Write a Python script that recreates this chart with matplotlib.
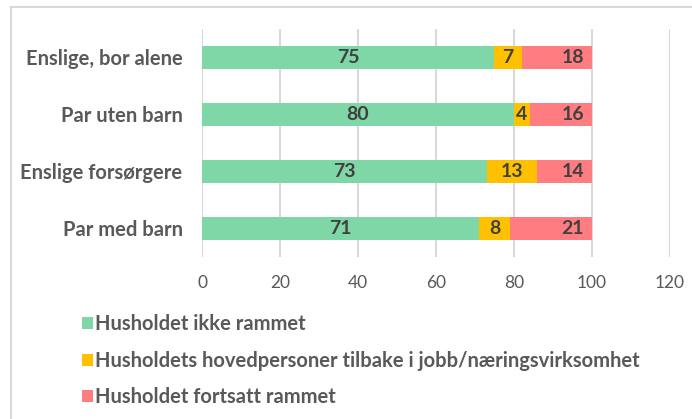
import matplotlib.pyplot as plt
from matplotlib.patches import Rectangle, Patch

categories = ["Enslige, bor alene", "Par uten barn", "Enslige forsørgere", "Par med barn"]
series_names = [
    "Husholdet ikke rammet",
    "Husholdets hovedpersoner tilbake i jobb/næringsvirksomhet",
    "Husholdet fortsatt rammet",
]
ikke_rammet = [75, 80, 73, 71]
tilbake_jobb = [7, 4, 13, 8]
fortsatt_rammet = [18, 16, 14, 21]
colors = ["#7FD6A6", "#FFC000", "#FF7C80"]
xticks = [0, 20, 40, 60, 80, 100, 120]

plt.rcParams["font.family"] = ["Lato", "DejaVu Sans"]
txt = "#595959"

fig = plt.figure(figsize=(6.92, 4.19), dpi=100)
ax = fig.add_axes([0.292, 0.387, 0.676, 0.544])

# frame round the chart area (only left/top visible in the crop)
fig.patches.append(Rectangle((11 / 692, -0.1), 1.2, 1 - 7 / 419 + 0.1,
                             transform=fig.transFigure, fill=False,
                             edgecolor="#D9D9D9", linewidth=1.5))

ypos = list(range(len(categories)))
left = [0] * len(categories)
series = [ikke_rammet, tilbake_jobb, fortsatt_rammet]
for i, (vals, name, col) in enumerate(zip(series, series_names, colors)):
    bars = ax.barh(ypos, vals, left=left, height=0.4, color=col, label=name, zorder=3)
    last = i == len(series) - 1
    for b, v in zip(bars, vals):
        # last segment: label sits at the inside end, like Excel does it
        if last:
            x, ha = b.get_x() + b.get_width() - 2, "right"
        else:
            x, ha = b.get_x() + b.get_width() / 2, "center"
        ax.text(x, b.get_y() + b.get_height() / 2, str(v),
                ha=ha, va="center", fontsize=14, fontweight="bold", color="#404040", zorder=4)
    left = [a + b for a, b in zip(left, vals)]

ax.set_ylim(len(categories) - 0.5, -0.5)
ax.set_yticks(ypos)
ax.set_yticklabels(categories, fontsize=14.5, fontweight="bold", color=txt)
ax.set_xlim(0, 120)
ax.set_xticks(xticks)
ax.set_xticklabels([str(t) for t in xticks], fontsize=12.5, color=txt)
ax.tick_params(axis="both", length=0)
ax.tick_params(axis="x", pad=13)
ax.tick_params(axis="y", pad=14)
ax.grid(axis="x", color="#D9D9D9", linewidth=1.5, zorder=0)
for s in ax.spines.values():
    s.set_visible(False)

handles = [Patch(facecolor=c, edgecolor="none") for c in colors]
leg = fig.legend(handles, series_names, loc="upper left", bbox_to_anchor=(0.118, 0.25),
                 frameon=False, fontsize=14.5, handlelength=0.55, handleheight=0.55,
                 handletextpad=0.1, labelspacing=0.82, borderaxespad=0, borderpad=0)
for t in leg.get_texts():
    t.set_color(txt)
    t.set_fontweight("bold")

fig.savefig("out.png", dpi=100)
